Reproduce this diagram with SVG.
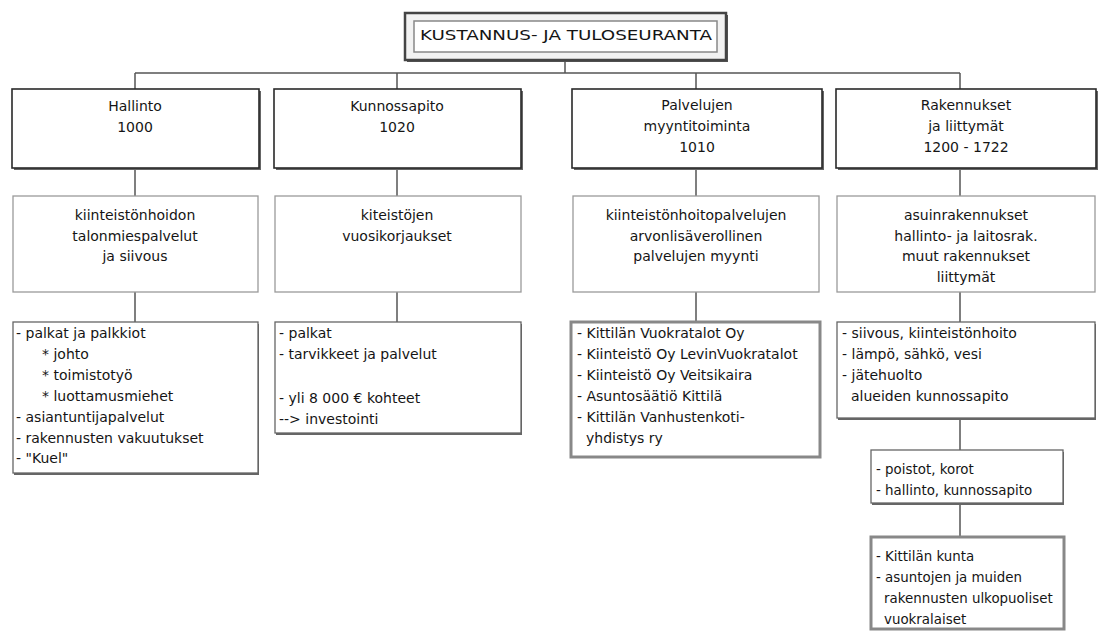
<svg xmlns="http://www.w3.org/2000/svg" width="1107" height="632" viewBox="0 0 1107 632">
<style>
text{font-family:"DejaVu Sans","Liberation Sans",sans-serif;font-size:14px;fill:#151515}
.c{text-anchor:middle}
.s{font-size:13.4px}
.l1{fill:#fff;stroke:#2a2a2a;stroke-width:1.6}
.sh{fill:#666}
.l2{fill:#fff;stroke:#9a9a9a;stroke-width:1.3}
.l3{fill:#fff;stroke:#666;stroke-width:1.3}
.dbl{fill:#fff;stroke:#888;stroke-width:3}
.conn line{stroke:#555;stroke-width:1.5}
</style>
<rect width="1107" height="632" fill="#fff"/>
<g class="conn">
<line x1="565" y1="60" x2="565" y2="73"/>
<line x1="135" y1="73" x2="960" y2="73"/>
<line x1="135" y1="73" x2="135" y2="89"/>
<line x1="397" y1="73" x2="397" y2="89"/>
<line x1="696" y1="73" x2="696" y2="89"/>
<line x1="960" y1="73" x2="960" y2="89"/>
<line x1="135" y1="168" x2="135" y2="196"/>
<line x1="397" y1="168" x2="397" y2="196"/>
<line x1="696" y1="168" x2="696" y2="196"/>
<line x1="960" y1="168" x2="960" y2="196"/>
<line x1="135" y1="292" x2="135" y2="322"/>
<line x1="397" y1="292" x2="397" y2="322"/>
<line x1="696" y1="292" x2="696" y2="322"/>
<line x1="960" y1="292" x2="960" y2="322"/>
<line x1="960" y1="418" x2="960" y2="450"/>
<line x1="960" y1="503" x2="960" y2="537"/>
</g>
<g id="title">
<rect x="407" y="15" width="321" height="47" fill="#555"/>
<rect x="405" y="13" width="321" height="47" fill="#f2f2f2" stroke="#444" stroke-width="2.5"/>
<rect x="414" y="21" width="303" height="31" fill="#fff" stroke="#888" stroke-width="1.5"/>
<text x="420" y="40" font-size="16" textLength="292" lengthAdjust="spacingAndGlyphs">KUSTANNUS- JA TULOSEURANTA</text>
</g>
<g id="hallinto">
<rect class="sh" x="14" y="91" width="247" height="79"/>
<rect class="l1" x="12" y="89" width="247" height="79"/>
<text class="c" x="135" y="111">Hallinto</text>
<text class="c" x="135" y="132">1000</text>
</g>
<g id="kunnossapito">
<rect class="sh" x="276" y="91" width="247" height="79"/>
<rect class="l1" x="274" y="89" width="247" height="79"/>
<text class="c" x="397" y="111">Kunnossapito</text>
<text class="c" x="397" y="132">1020</text>
</g>
<g id="palvelujen">
<rect class="sh" x="574" y="91" width="250" height="79"/>
<rect class="l1" x="572" y="89" width="250" height="79"/>
<text class="c" x="697" y="110">Palvelujen</text>
<text class="c" x="697" y="131">myyntitoiminta</text>
<text class="c" x="697" y="152">1010</text>
</g>
<g id="rakennukset">
<rect class="sh" x="838" y="91" width="260" height="79"/>
<rect class="l1" x="836" y="89" width="260" height="79"/>
<text class="c" x="966" y="110">Rakennukset</text>
<text class="c" x="966" y="131">ja liittymät</text>
<text class="c" x="966" y="152">1200 - 1722</text>
</g>
<g id="hallinto2">
<rect class="l2" x="13" y="196" width="245" height="96"/>
<text class="c" x="135" y="220">kiinteistönhoidon</text>
<text class="c" x="135" y="241">talonmiespalvelut</text>
<text class="c" x="135" y="261">ja siivous</text>
</g>
<g id="kunnossapito2">
<rect class="l2" x="275" y="196" width="246" height="96"/>
<text class="c" x="397" y="220">kiteistöjen</text>
<text class="c" x="397" y="241">vuosikorjaukset</text>
</g>
<g id="palvelujen2">
<rect class="l2" x="573" y="196" width="246" height="96"/>
<text class="c" x="696" y="220">kiinteistönhoitopalvelujen</text>
<text class="c" x="696" y="241">arvonlisäverollinen</text>
<text class="c" x="696" y="261">palvelujen myynti</text>
</g>
<g id="rakennukset2">
<rect class="l2" x="837" y="196" width="258" height="96"/>
<text class="c" x="966" y="220">asuinrakennukset</text>
<text class="c" x="966" y="241">hallinto- ja laitosrak.</text>
<text class="c" x="966" y="261">muut rakennukset</text>
<text class="c" x="966" y="282">liittymät</text>
</g>
<g id="hallinto3">
<rect class="sh" x="14" y="324" width="245" height="151"/>
<rect class="l3" x="13" y="322" width="245" height="151"/>
<text x="16" y="338">- palkat ja palkkiot</text>
<text x="42" y="359">* johto</text>
<text x="42" y="380">* toimistotyö</text>
<text x="42" y="401">* luottamusmiehet</text>
<text x="16" y="422">- asiantuntijapalvelut</text>
<text x="16" y="443">- rakennusten vakuutukset</text>
<text x="16" y="463">- "Kuel"</text>
</g>
<g id="kunnossapito3">
<rect class="sh" x="276" y="324" width="246" height="111"/>
<rect class="l3" x="275" y="322" width="246" height="111"/>
<text x="279" y="338">- palkat</text>
<text x="279" y="359">- tarvikkeet ja palvelut</text>
<text x="279" y="403">- yli 8 000 € kohteet</text>
<text x="279" y="424">--&gt; investointi</text>
</g>
<g id="palvelujen3">
<rect class="dbl" x="571" y="322" width="249" height="135"/>
<text x="577" y="338">- Kittilän Vuokratalot Oy</text>
<text x="577" y="359">- Kiinteistö Oy LevinVuokratalot</text>
<text x="577" y="380">- Kiinteistö Oy Veitsikaira</text>
<text x="577" y="401">- Asuntosäätiö Kittilä</text>
<text x="577" y="422">- Kittilän Vanhustenkoti-</text>
<text x="586" y="443">yhdistys ry</text>
</g>
<g id="rakennukset3">
<rect class="sh" x="838" y="324" width="258" height="96"/>
<rect class="l3" x="837" y="322" width="258" height="96"/>
<text x="842" y="338">- siivous, kiinteistönhoito</text>
<text x="842" y="359">- lämpö, sähkö, vesi</text>
<text x="842" y="380">- jätehuolto</text>
<text x="851" y="401">alueiden kunnossapito</text>
</g>
<g id="poistot">
<rect class="sh" x="872" y="452" width="192" height="53"/>
<rect class="l3" x="871" y="450" width="192" height="53"/>
<text class="s" x="876" y="474">- poistot, korot</text>
<text class="s" x="876" y="495">- hallinto, kunnossapito</text>
</g>
<g id="kittila">
<rect class="dbl" x="871" y="537" width="193" height="92"/>
<text class="s" x="876" y="561">- Kittilän kunta</text>
<text class="s" x="876" y="582">- asuntojen ja muiden</text>
<text class="s" x="884" y="603">rakennusten ulkopuoliset</text>
<text class="s" x="884" y="624">vuokralaiset</text>
</g>
</svg>
